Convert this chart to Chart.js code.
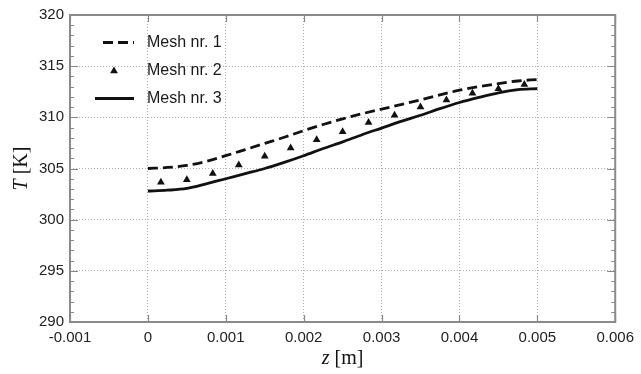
<!DOCTYPE html>
<html>
<head>
<meta charset="utf-8">
<script src="https://cdn.jsdelivr.net/npm/chart.js@4.4.1/dist/chart.umd.min.js"></script>
<style>
  html, body { margin: 0; padding: 0; background: #fff; }
  #wrap { width: 641px; height: 374px; }
</style>
</head>
<body>
<div id="wrap"><canvas id="c" width="641" height="374"></canvas></div>
<script>
// ---- data ----
const zLine = [0, 0.00025, 0.0005, 0.00075, 0.001, 0.00125, 0.0015, 0.00175, 0.002, 0.00225, 0.0025,
               0.00275, 0.003, 0.00325, 0.0035, 0.00375, 0.004, 0.00425, 0.0045, 0.00475, 0.005];
const mesh1 = [305.0, 305.1, 305.3, 305.7, 306.25, 306.85, 307.45, 308.05, 308.7, 309.3, 309.85,
               310.35, 310.8, 311.25, 311.7, 312.2, 312.65, 313.0, 313.3, 313.55, 313.7];
const mesh3 = [302.8, 302.88, 303.05, 303.5, 304.0, 304.5, 305.0, 305.6, 306.25, 306.95, 307.6,
               308.3, 308.95, 309.6, 310.2, 310.85, 311.45, 311.95, 312.4, 312.7, 312.8];
const zMesh2 = [0.000167, 0.0005, 0.000833, 0.001167, 0.0015, 0.001833, 0.002167, 0.0025,
                0.002833, 0.003167, 0.0035, 0.003833, 0.004167, 0.0045, 0.004833];
const mesh2 = [303.65, 303.9, 304.5, 305.35, 306.2, 307.0, 307.8, 308.6,
               309.5, 310.2, 311.0, 311.7, 312.35, 312.8, 313.2];
const seriesNames = ['Mesh nr. 1', 'Mesh nr. 2', 'Mesh nr. 3'];
const xTicks = [-0.001, 0, 0.001, 0.002, 0.003, 0.004, 0.005, 0.006];
const xTickLabels = ['-0.001', '0', '0.001', '0.002', '0.003', '0.004', '0.005', '0.006'];
const yTicks = [290, 295, 300, 305, 310, 315, 320];
const yTickLabels = ['290', '295', '300', '305', '310', '315', '320'];
const yMinorStep = 1;

const pts = (xs, ys) => xs.map((x, i) => ({ x: x, y: ys[i] }));

const boxPlugin = {
  id: 'boxPlugin',
  afterDraw(chart) {
    const ctx = chart.ctx;
    const a = chart.chartArea;
    const xs = chart.scales.x, ys = chart.scales.y;
    ctx.save();
    // ticks inward
    ctx.strokeStyle = '#888';
    ctx.lineWidth = 1.2;
    ctx.beginPath();
    xTicks.forEach(v => {
      const px = Math.round(xs.getPixelForValue(v)) + 0.5;
      ctx.moveTo(px, a.bottom); ctx.lineTo(px, a.bottom - 7);
      ctx.moveTo(px, a.top); ctx.lineTo(px, a.top + 7);
    });
    for (let v = yTicks[0]; v <= yTicks[yTicks.length - 1] + 1e-9; v += yMinorStep) {
      const major = yTicks.includes(v);
      const len = major ? 8 : 4;
      const py = Math.round(ys.getPixelForValue(v)) + 0.5;
      ctx.moveTo(a.left, py); ctx.lineTo(a.left + len, py);
      ctx.moveTo(a.right, py); ctx.lineTo(a.right - len, py);
    }
    ctx.stroke();
    // box
    ctx.strokeStyle = '#8a8a8a';
    ctx.lineWidth = 2;
    ctx.strokeRect(a.left, a.top, a.right - a.left, a.bottom - a.top);

    // legend
    const lx = a.left, ly = a.top;
    ctx.strokeStyle = '#111';
    ctx.fillStyle = '#111';
    ctx.lineWidth = 2.8;
    ctx.setLineDash([10, 5]);
    ctx.beginPath(); ctx.moveTo(lx + 33, ly + 27.5); ctx.lineTo(lx + 64, ly + 27.5); ctx.stroke();
    ctx.setLineDash([]);
    const tx = lx + 44, ty = ly + 56, r = 4.5;
    ctx.beginPath();
    ctx.moveTo(tx, ty - r);
    ctx.lineTo(tx + r * 0.866, ty + r * 0.5);
    ctx.lineTo(tx - r * 0.866, ty + r * 0.5);
    ctx.closePath(); ctx.fill();
    ctx.beginPath(); ctx.moveTo(lx + 25, ly + 83.5); ctx.lineTo(lx + 64, ly + 83.5); ctx.stroke();
    ctx.font = '16px "Liberation Sans", Arial, sans-serif';
    ctx.textBaseline = 'middle';
    ctx.textAlign = 'left';
    ctx.fillStyle = '#1a1a1a';
    ctx.fillText(seriesNames[0], lx + 77, ly + 28);
    ctx.fillText(seriesNames[1], lx + 77, ly + 56);
    ctx.fillText(seriesNames[2], lx + 77, ly + 84);

    // axis titles with mixed italic
    const drawMixed = (parts, cx, cy, rot) => {
      ctx.save();
      ctx.translate(cx, cy);
      ctx.rotate(rot);
      let total = 0;
      parts.forEach(p => { ctx.font = p.f; total += ctx.measureText(p.t).width; });
      let x = -total / 2;
      ctx.textAlign = 'left';
      ctx.textBaseline = 'middle';
      parts.forEach(p => { ctx.font = p.f; ctx.fillText(p.t, x, 0); x += ctx.measureText(p.t).width; });
      ctx.restore();
    };
    const fi = 'italic 20px "Liberation Serif", "Times New Roman", serif';
    const fn = '20px "Liberation Serif", "Times New Roman", serif';
    ctx.fillStyle = '#111';
    drawMixed([{ t: 'T', f: fi }, { t: ' [K]', f: fn }], 22, (a.top + a.bottom) / 2, -Math.PI / 2);
    drawMixed([{ t: 'z', f: fi }, { t: ' [m]', f: fn }], (a.left + a.right) / 2, 359, 0);
    ctx.restore();
  }
};

const gridOpts = { color: '#b0b0b0', lineWidth: 1, drawTicks: false };
const tickFont = { family: '"Liberation Sans", Arial, sans-serif', size: 15 };

new Chart(document.getElementById('c'), {
  type: 'scatter',
  data: {
    datasets: [
      { label: seriesNames[0], data: pts(zLine, mesh1), showLine: true, pointRadius: 0,
        borderColor: '#111', borderWidth: 2.8, borderDash: [10, 5], cubicInterpolationMode: 'monotone' },
      { label: seriesNames[1], data: pts(zMesh2, mesh2), showLine: false, pointStyle: 'triangle',
        pointRadius: 4.5, backgroundColor: '#111', borderColor: '#111', borderWidth: 0 },
      { label: seriesNames[2], data: pts(zLine, mesh3), showLine: true, pointRadius: 0,
        borderColor: '#111', borderWidth: 2.8, cubicInterpolationMode: 'monotone' }
    ]
  },
  options: {
    responsive: false,
    animation: false,
    devicePixelRatio: 1,
    layout: { padding: { top: 15, right: 19, left: 0, bottom: 0 } },
    plugins: { legend: { display: false }, tooltip: { enabled: false } },
    scales: {
      x: {
        type: 'linear', min: xTicks[0], max: xTicks[xTicks.length - 1],
        afterBuildTicks: s => { s.ticks = xTicks.map(v => ({ value: v })); },
        afterFit: s => { s.height = 52; },
        ticks: { font: tickFont, color: '#222', padding: 7, maxRotation: 0,
                 callback: (v, i) => xTickLabels[i] },
        grid: gridOpts,
        border: { display: false, dash: [1, 2] }
      },
      y: {
        type: 'linear', min: yTicks[0], max: yTicks[yTicks.length - 1],
        afterBuildTicks: s => { s.ticks = yTicks.map(v => ({ value: v })); },
        afterFit: s => { s.width = 70; },
        ticks: { font: tickFont, color: '#222', padding: 6,
                 callback: (v, i) => yTickLabels[i] },
        grid: gridOpts,
        border: { display: false, dash: [1, 2] }
      }
    }
  },
  plugins: [boxPlugin]
});
</script>
</body>
</html>
